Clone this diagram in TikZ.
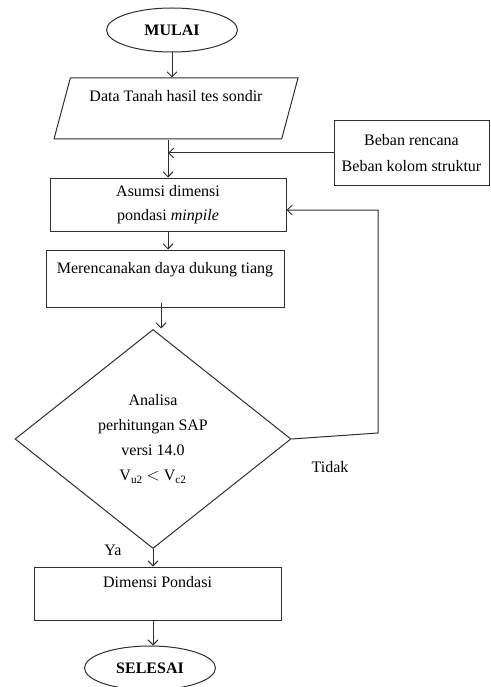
\documentclass[tikz,border=0pt]{standalone}
\usepackage{fontspec}
\setmainfont{Liberation Serif}
\usepackage{tikz}
\usetikzlibrary{shapes.geometric}
\usetikzlibrary{positioning}
\usetikzlibrary{arrows.meta}
\definecolor{linegray}{rgb}{0.18,0.18,0.18}

\begin{document}
\begin{tikzpicture}[
            x = 1pt, y = -1pt,
            > = {Straight Barb[length=5pt, width=10pt]}, % open arrow head
            line width = 1pt,
            draw = linegray,
            font = \fontsize{16}{19}\selectfont
            ]

        \tikzstyle{terminal}=[draw, ellipse, minimum width=131pt, minimum height=44pt, inner sep=0pt, font=\fontsize{16}{19}\selectfont\bfseries]
        \tikzstyle{process}=[draw, rectangle, inner ysep=0pt, inner xsep=0pt]
        \tikzstyle{io}=[draw, trapezium, trapezium left angle=75, trapezium right angle=105, trapezium stretches body, inner ysep=0pt, inner xsep=0pt]
        \tikzstyle{decision}=[draw, diamond, minimum width=276pt, minimum height=219pt, inner sep=0pt, align=center]

        \useasboundingbox (0,0) rectangle (490,687);

	% start and input
        \node[terminal] (mulai) at (172,30) {MULAI};
        \node[io, minimum width=244pt, minimum height=61pt, text height=24pt, text depth=37pt] (data) at (176,108.5) {Data Tanah hasil tes sondir};

	% loads
        \node[process, minimum width=155pt, minimum height=64pt, align=center] (beban) at (411.5,153) {Beban rencana\\[7pt]Beban kolom struktur};

	% process steps
        \node[process, minimum width=236pt, minimum height=53pt, align=center] (asumsi) at (168,204.5) {Asumsi dimensi\\[5pt]pondasi \textit{minpile}};
        \node[process, minimum width=238pt, minimum height=57pt, text height=23pt, text depth=34pt] (rencana) at (165,278.5) {Merencanakan daya dukung tiang};

	% check
        \node[decision] (cek) at (153,439) {Analisa\\[6pt]perhitungan SAP\\[6pt]versi 14.0\\[6pt]V$_{\mathrm{u2}}$ $<$ V$_{\mathrm{c2}}$};
        \node (tidak) at (330,467) {Tidak};
        \node (ya) at (113,550) {Ya};

	% result
        \node[process, minimum width=247pt, minimum height=53pt, text height=20pt, text depth=33pt] (dimensi) at (157.5,593.5) {Dimensi Pondasi};
        \node[terminal] (selesai) at (150,668) {SELESAI};

	% link nodes
        \coordinate (masuk) at (168,153);
        \coordinate (balik1) at (378,433);
        \coordinate (balik2) at (378,210);

        \draw[->] (mulai.south) -- (mulai.south |- data.north);
        \draw[->] (data.south -| asumsi.north) -- (asumsi.north);
        \draw[->] (beban.west |- masuk) -- (masuk);
        \draw[->] (asumsi.south) -- (asumsi.south |- rencana.north);
        \draw[->] ([xshift=-4pt]rencana.south) ++(0,-5) -- ++(0,26);
        \draw[->] (cek.south) -- (cek.south |- dimensi.north);
        \draw[->] (cek.south |- dimensi.south) -- (cek.south |- selesai.north);
        \draw[->] (cek.east) -- (balik1) -- (balik2) -- (asumsi.east |- balik2);

  \end{tikzpicture}
\end{document}
